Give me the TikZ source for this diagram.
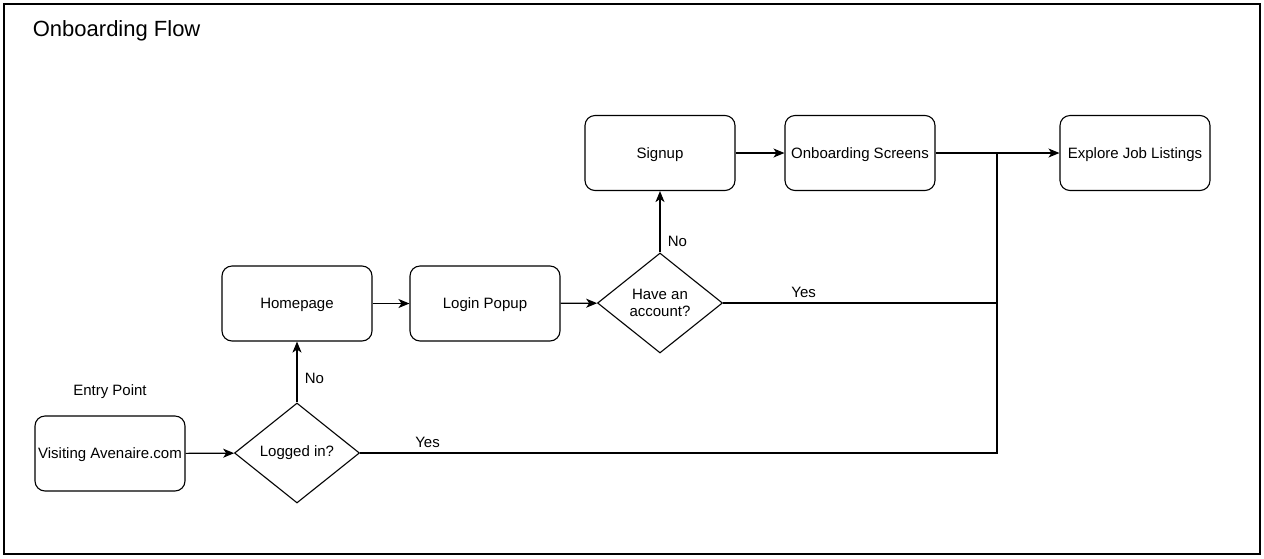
\documentclass[tikz,border=0pt]{standalone}
\usepackage{fontspec}
\setmainfont{Liberation Sans}
\usetikzlibrary{arrows.meta,shapes.geometric}

\begin{document}
\begin{tikzpicture}[x=1pt,y=-1pt,line width=1.1pt,
    font=\fontsize{15}{17}\selectfont,
    stepbox/.style={draw,rounded corners=10pt,minimum width=150pt,minimum height=75pt,inner sep=1pt,text height=11pt,text depth=1pt},
    choice/.style={draw,diamond,aspect=1.25,minimum width=125pt,minimum height=100pt,inner sep=1pt,align=center},
    arr/.style={-{Stealth[length=11pt,width=9pt,inset=3pt]}}]
  \useasboundingbox (0,0) rectangle (1264,558);
  \draw[line width=1.4pt] (4,4) rectangle (1260,554);
  \node[anchor=west,font=\fontsize{22}{26}\selectfont] (title) at (29,31) {Onboarding Flow};
  \node[stepbox] (visit) at (110,453.5) {Visiting Avenaire.com};
  \node (entry) at (110,392) {Entry Point};
  \node[choice] (logged) at (297,453) {\strut Logged in?};
  \node[stepbox] (home) at (297,303.5) {Homepage};
  \node[stepbox] (login) at (485,303.5) {Login Popup};
  \node[choice] (acct) at (660,303) {Have an\\account?};
  \node[stepbox] (signup) at (660,153) {Signup};
  \node[stepbox] (onboard) at (860,153) {Onboarding Screens};
  \node[stepbox] (explore) at (1135,153) {Explore Job Listings};
  \coordinate (join) at (997,153);
  \draw[arr] (visit) -- (logged);
  \draw[arr] (logged) -- node[pos=0.4,right=4pt] {No} (home);
  \draw[arr] (home) -- (login);
  \draw[arr] (login) -- (acct);
  \draw[arr] (acct) -- node[pos=0.18,right=4pt] {No} (signup);
  \draw[arr] (signup) -- (onboard);
  \draw[arr] (onboard) -- (explore);
  \draw (acct.east) -| node[pos=0.147,above=1pt] {Yes} (join);
  \draw (logged.east) -| node[pos=0.053,above=1pt] {Yes} (join);
\end{tikzpicture}
\end{document}
